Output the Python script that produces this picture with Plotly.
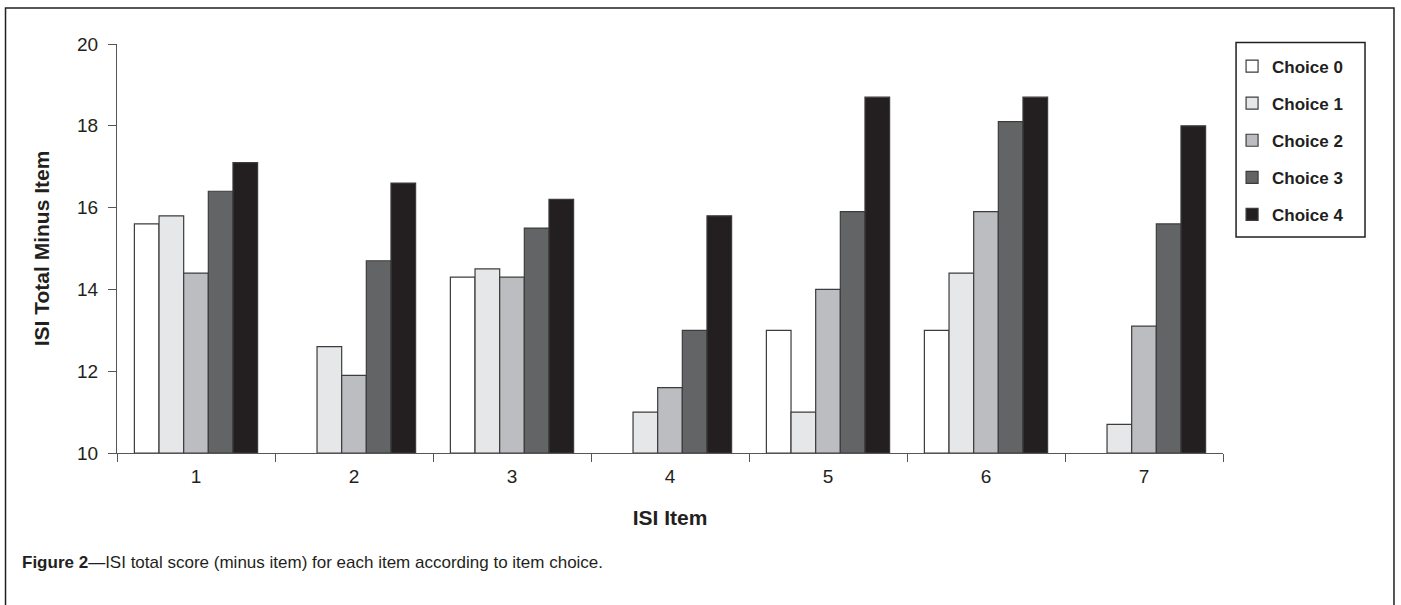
import plotly.graph_objects as go

items = ["1", "2", "3", "4", "5", "6", "7"]
series_names = ["Choice 0", "Choice 1", "Choice 2", "Choice 3", "Choice 4"]
choice0 = [15.6, None, 14.3, None, 13.0, 13.0, None]
choice1 = [15.8, 12.6, 14.5, 11.0, 11.0, 14.4, 10.7]
choice2 = [14.4, 11.9, 14.3, 11.6, 14.0, 15.9, 13.1]
choice3 = [16.4, 14.7, 15.5, 13.0, 15.9, 18.1, 15.6]
choice4 = [17.1, 16.6, 16.2, 15.8, 18.7, 18.7, 18.0]
y_ticks = [10, 12, 14, 16, 18, 20]

colors = ["#ffffff", "#e6e7e9", "#bcbdc0", "#636466", "#231f20"]
FONT = "Liberation Sans Narrow, Arial Narrow, Liberation Sans, Arial, sans-serif"

fig = go.Figure()
for name, vals, col in zip(series_names, [choice0, choice1, choice2, choice3, choice4], colors):
    fig.add_trace(go.Bar(
        x=items, y=[(v - 10) if v is not None else None for v in vals], base=10,
        name=name, legendgroup=name,
        marker=dict(color=col, line=dict(color="#3c3c3c", width=1.2)),
    ))

fig.update_layout(
    width=1401, height=605,
    margin=dict(l=117, r=178, t=43.5, b=151.5),
    paper_bgcolor="white", plot_bgcolor="white",
    barmode="group", bargap=0.22, bargroupgap=0,
    font=dict(family=FONT, color="#231f20", size=16),
    showlegend=True,
    legend=dict(
        x=1.0082, y=0.989, xanchor="left", yanchor="top",
        borderwidth=0, bgcolor="rgba(0,0,0,0)",
        font=dict(family=FONT, size=17, color="#231f20", weight="bold"),
        tracegroupgap=12, itemwidth=30,
    ),
    xaxis=dict(
        type="category", showline=True, linecolor="#555", linewidth=1,
        ticks="outside", tickson="boundaries", ticklen=8, tickcolor="#555",
        tickfont=dict(size=19), showgrid=False, ticklabelstandoff=6,
        title=dict(text="<b>ISI Item</b>", font=dict(size=21), standoff=24),
    ),
    yaxis=dict(
        range=[10, 20], tickvals=y_ticks, showline=True, linecolor="#555", linewidth=1,
        ticks="outside", ticklen=8, tickcolor="#555", showgrid=False, zeroline=False,
        tickfont=dict(size=19), ticklabelstandoff=6,
        title=dict(text="<b>ISI Total Minus Item</b>", font=dict(size=21), standoff=21),
    ),
)

# legend box
fig.add_shape(type="rect", xref="paper", yref="paper",
              x0=1.0118, x1=1.1284, y0=(453.5 - 237) / 410, y1=(453.5 - 42) / 410,
              line=dict(color="#231f20", width=1.5), fillcolor="rgba(0,0,0,0)")

# outer frame (left, top, right)
fig.add_shape(type="path", xref="paper", yref="paper",
              path="M -0.1008,-0.45 L -0.1008,1.0878 L 1.1546,1.0878 L 1.1546,-0.45",
              line=dict(color="#231f20", width=1.5))

fig.add_annotation(
    xref="paper", yref="paper", x=-0.0877, y=-0.267, xanchor="left", yanchor="middle",
    text="<b>Figure 2</b>—ISI total score (minus item) for each item according to item choice.",
    showarrow=False, font=dict(family=FONT, size=17, color="#231f20"), align="left",
)

fig.write_html("out.html", config={"displayModeBar": False},
               post_script="document.body.style.margin='0';window.dispatchEvent(new Event('resize'));")
